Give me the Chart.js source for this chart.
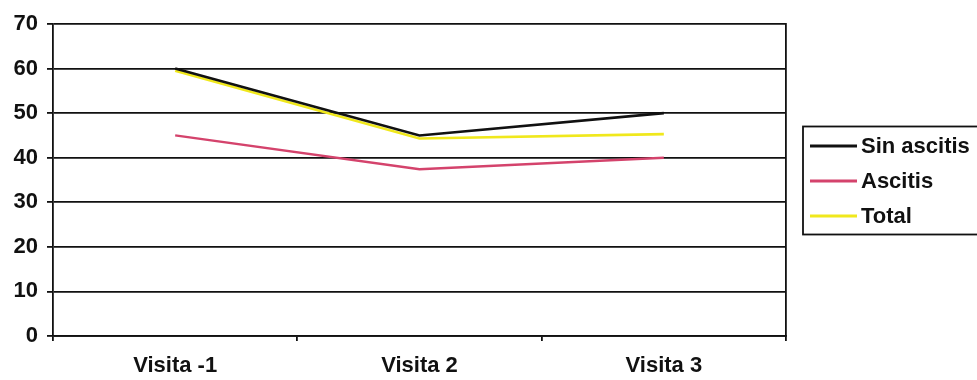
<!DOCTYPE html>
<html>
<head>
<meta charset="utf-8">
<script src="https://cdn.jsdelivr.net/npm/chart.js@4.4.1/dist/chart.umd.min.js"></script>
<style>
  html, body { margin: 0; padding: 0; background: #fff; }
  #wrap { width: 977px; height: 380px; position: relative; }
</style>
</head>
<body>
<div id="wrap"><canvas id="c" width="977" height="380"></canvas></div>
<script>
const categories = ["Visita -1", "Visita 2", "Visita 3"];
const sinAscitis = [60, 45, 50];
const ascitis = [45, 37.4, 40];
const total = [59.5, 44.3, 45.3];
const seriesNames = ["Sin ascitis", "Ascitis", "Total"];
const yTicks = [0, 10, 20, 30, 40, 50, 60, 70];

const FONT = "'Liberation Sans', Arial, sans-serif";

const boxedLegend = {
  id: 'boxedLegend',
  afterDraw(chart) {
    const ctx = chart.ctx;
    const ca = chart.chartArea;
    const left = ca.right + 17;
    const cy = (ca.top + ca.bottom) / 2 + 1;
    const step = 35;
    const n = chart.data.datasets.length;
    const top = cy - step * n / 2 - 2;
    const bottom = cy + step * n / 2 + 1;
    ctx.save();
    ctx.strokeStyle = '#111';
    ctx.lineWidth = 1.8;
    ctx.strokeRect(left, top, 200, bottom - top);
    ctx.font = "bold 22px " + FONT;
    ctx.textBaseline = 'middle';
    ctx.textAlign = 'left';
    chart.data.datasets.forEach((ds, i) => {
      const y = cy + (i - (n - 1) / 2) * step;
      ctx.strokeStyle = ds.borderColor;
      ctx.lineWidth = ds.borderWidth + 0.5;
      ctx.beginPath();
      ctx.moveTo(left + 7, y);
      ctx.lineTo(left + 54, y);
      ctx.stroke();
      ctx.fillStyle = '#111';
      ctx.fillText(ds.label, left + 58, y + 1);
    });
    ctx.restore();
  }
};

new Chart(document.getElementById('c'), {
  type: 'line',
  data: {
    labels: categories,
    datasets: [
      { label: seriesNames[0], data: sinAscitis, borderColor: '#111111', borderWidth: 2.6 },
      { label: seriesNames[1], data: ascitis, borderColor: '#d4436c', borderWidth: 2.4 },
      { label: seriesNames[2], data: total, borderColor: '#f0e81c', borderWidth: 2.6 }
    ]
  },
  options: {
    responsive: false,
    animation: false,
    devicePixelRatio: 1,
    layout: { padding: { left: 0, top: 24, right: 191, bottom: 0 } },
    elements: { point: { radius: 0 }, line: { tension: 0 } },
    plugins: { legend: { display: false }, tooltip: { enabled: false } },
    scales: {
      x: {
        type: 'category',
        offset: true,
        grid: { offset: true, drawOnChartArea: false, drawTicks: true, tickLength: 5, color: '#111', lineWidth: 1.8 },
        border: { display: true, color: '#111', width: 1.8 },
        ticks: { color: '#111', font: { family: FONT, size: 22, weight: 'bold' }, padding: 12, maxRotation: 0 },
        afterFit(s) { s.height = 44; }
      },
      y: {
        min: 0, max: 70,
        afterBuildTicks(s) { s.ticks = yTicks.map(v => ({ value: v })); },
        grid: { color: '#111', lineWidth: 1.8, tickLength: 6 },
        border: { display: true, color: '#111', width: 1.8 },
        ticks: { color: '#111', font: { family: FONT, size: 22, weight: 'bold' }, padding: 9 },
        afterFit(s) { s.width = 53; }
      },
      y2: {
        position: 'right',
        min: 0, max: 70,
        grid: { display: false, drawTicks: false },
        border: { display: true, color: '#111', width: 1.8 },
        ticks: { display: false },
        afterFit(s) { s.width = 0; }
      }
    }
  },
  plugins: [boxedLegend]
});
</script>
</body>
</html>
